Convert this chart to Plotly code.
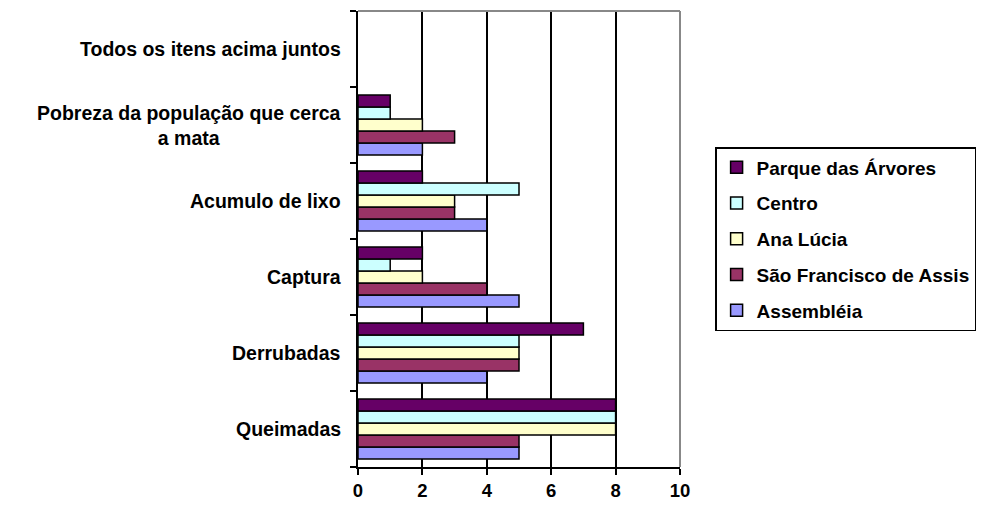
import plotly.graph_objects as go

categories = ["Queimadas", "Derrubadas", "Captura", "Acumulo de lixo",
              "Pobreza da população que cerca<br>a mata", "Todos os itens acima juntos"]
series_names = ["Assembléia", "São Francisco de Assis", "Ana Lúcia", "Centro", "Parque das Árvores"]
assembleia = [5, 4, 5, 4, 2, 0]
sao_francisco = [5, 5, 4, 3, 3, 0]
ana_lucia = [8, 5, 2, 3, 2, 0]
centro = [8, 5, 1, 5, 1, 0]
parque = [8, 7, 2, 2, 1, 0]
colors = ["#9999FF", "#993366", "#FFFFCC", "#CCFFFF", "#660066"]
x_ticks = [0, 2, 4, 6, 8, 10]

values = [assembleia, sao_francisco, ana_lucia, centro, parque]
cat_ids = list(range(len(categories)))
FAM = "Liberation Sans, Arial"

fig = go.Figure()
n = len(series_names)
for i, (name, vals, col) in enumerate(zip(series_names, values, colors)):
    fig.add_trace(go.Bar(
        y=cat_ids, x=vals, name=name, orientation="h",
        marker=dict(color=col,
                    line=dict(color="black", width=[1.5 if v else 0 for v in vals])),
        legendgroup=name, legendrank=(n - i) * 10,
    ))

for cid, label in zip(cat_ids, categories):
    fig.add_annotation(
        x=-0.047, xref="paper", y=cid, yref="y", text=label,
        showarrow=False, xanchor="right", yanchor="middle", align="center",
        font=dict(family=FAM, size=19.5, color="black", weight="bold"),
    )

fig.update_layout(
    width=976, height=499,
    margin=dict(l=350, r=304, t=3, b=40),
    paper_bgcolor="white", plot_bgcolor="white",
    barmode="group", bargap=0.21, bargroupgap=0,
    font=dict(family=FAM, size=16, color="black", weight="bold"),
    showlegend=True,
    legend=dict(
        x=1.109, xanchor="left", y=0.5, yanchor="middle",
        traceorder="grouped", tracegroupgap=8,
        bordercolor="black", borderwidth=1.5, bgcolor="white",
        font=dict(family=FAM, size=19, color="black", weight="bold"),
        itemwidth=30,
    ),
    xaxis=dict(
        range=[0, 10], tickvals=x_ticks, ticktext=[str(t) for t in x_ticks],
        showgrid=True, gridcolor="black", gridwidth=1.5, zeroline=False,
        showline=True, linecolor="black", linewidth=2,
        ticks="outside", ticklen=6, tickwidth=2, tickcolor="black",
        tickfont=dict(family=FAM, size=18.5, color="black", weight="bold"),
        fixedrange=True,
    ),
    yaxis=dict(
        range=[-0.5, len(categories) - 0.5],
        tickvals=[c - 0.5 for c in cat_ids] + [len(categories) - 0.5],
        showticklabels=False, showgrid=False, zeroline=False,
        showline=True, linecolor="black", linewidth=2,
        ticks="outside", ticklen=6, tickwidth=2, tickcolor="black",
        fixedrange=True,
    ),
)

fig.add_shape(type="line", xref="paper", yref="paper", x0=0, x1=1, y0=1, y1=1,
              line=dict(color="#888888", width=2))
fig.add_shape(type="line", xref="paper", yref="paper", x0=1, x1=1, y0=0, y1=1,
              line=dict(color="#888888", width=2))

fig.write_html("out.html")
